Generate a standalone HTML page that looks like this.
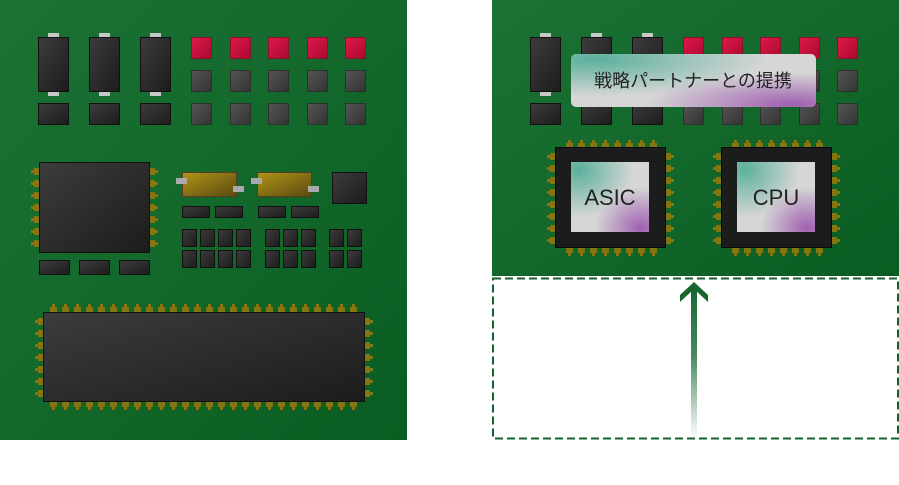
<!DOCTYPE html>
<html><head><meta charset="utf-8"><style>html,body{margin:0;padding:0;background:#fff}svg{display:block}</style></head><body>
<svg width="899" height="485" viewBox="0 0 899 485" xmlns="http://www.w3.org/2000/svg">
<defs>
<linearGradient id="bd" x1="0" y1="0" x2="1" y2="1"><stop offset="0" stop-color="#1c7234"/><stop offset="1" stop-color="#0a5d22"/></linearGradient>
<linearGradient id="ch" x1="0" y1="0" x2="1" y2="1"><stop offset="0" stop-color="#3c3c3c"/><stop offset="1" stop-color="#1c1c1c"/></linearGradient>
<linearGradient id="gr" x1="0" y1="0" x2="1" y2="1"><stop offset="0" stop-color="#555"/><stop offset="1" stop-color="#333"/></linearGradient>
<linearGradient id="rd" x1="0" y1="0" x2="1" y2="1"><stop offset="0" stop-color="#e0184a"/><stop offset="1" stop-color="#a80a30"/></linearGradient>
<linearGradient id="gd" x1="0" y1="0" x2="1" y2="1"><stop offset="0" stop-color="#b09418"/><stop offset="1" stop-color="#5a4a10"/></linearGradient>
<radialGradient id="tl" cx="0.1" cy="0.1" r="0.7"><stop offset="0" stop-color="#5bb09c"/><stop offset="1" stop-color="#5bb09c" stop-opacity="0"/></radialGradient>
<radialGradient id="br" cx="0.9" cy="0.95" r="0.6"><stop offset="0" stop-color="#a060b0"/><stop offset="1" stop-color="#a060b0" stop-opacity="0"/></radialGradient>
<linearGradient id="ar" x1="0" y1="1" x2="0" y2="0"><stop offset="0" stop-color="#1a6a35" stop-opacity="0"/><stop offset="0.55" stop-color="#1a6a35" stop-opacity="0.8"/><stop offset="1" stop-color="#16652f"/></linearGradient>
<pattern id="pu" patternUnits="userSpaceOnUse" width="12" height="8"><rect x="4" y="0" width="3" height="4" fill="#857612"/><rect x="2" y="3" width="7" height="5" fill="#857612"/></pattern>
<pattern id="pd" patternUnits="userSpaceOnUse" width="12" height="8"><rect x="2" y="0" width="7" height="5" fill="#857612"/><rect x="4" y="4" width="3" height="4" fill="#857612"/></pattern>
<pattern id="pl" patternUnits="userSpaceOnUse" width="8" height="12"><rect x="0" y="4" width="4" height="3" fill="#857612"/><rect x="3" y="2" width="5" height="7" fill="#857612"/></pattern>
<pattern id="pr" patternUnits="userSpaceOnUse" width="8" height="12"><rect x="0" y="2" width="5" height="7" fill="#857612"/><rect x="4" y="4" width="4" height="3" fill="#857612"/></pattern>
<g id="top">
<g fill="#c8c8c8"><rect x="48" y="33" width="11" height="6"/><rect x="48" y="90" width="11" height="6"/><rect x="99" y="33" width="11" height="6"/><rect x="99" y="90" width="11" height="6"/><rect x="150" y="33" width="11" height="6"/><rect x="150" y="90" width="11" height="6"/></g>
<g fill="url(#ch)" stroke="#111"><rect x="38.5" y="37.5" width="30" height="54"/><rect x="89.5" y="37.5" width="30" height="54"/><rect x="140.5" y="37.5" width="30" height="54"/>
<rect x="38.5" y="103.5" width="30" height="21"/><rect x="89.5" y="103.5" width="30" height="21"/><rect x="140.5" y="103.5" width="30" height="21"/></g>
<g fill="url(#rd)" stroke="#8a0a28" stroke-width="0.8"><rect x="191.5" y="37.5" width="20" height="21"/><rect x="230.5" y="37.5" width="20" height="21"/><rect x="268.5" y="37.5" width="20" height="21"/><rect x="307.5" y="37.5" width="20" height="21"/><rect x="345.5" y="37.5" width="20" height="21"/></g>
<g fill="url(#gr)" stroke="#2a2a2a" stroke-width="0.8"><rect x="191.5" y="70.5" width="20" height="21"/><rect x="230.5" y="70.5" width="20" height="21"/><rect x="268.5" y="70.5" width="20" height="21"/><rect x="307.5" y="70.5" width="20" height="21"/><rect x="345.5" y="70.5" width="20" height="21"/>
<rect x="191.5" y="103.5" width="20" height="21"/><rect x="230.5" y="103.5" width="20" height="21"/><rect x="268.5" y="103.5" width="20" height="21"/><rect x="307.5" y="103.5" width="20" height="21"/><rect x="345.5" y="103.5" width="20" height="21"/></g>
</g>
</defs>
<rect x="0" y="0" width="407" height="440" fill="url(#bd)"/>
<rect x="492" y="0" width="407" height="276" fill="url(#bd)"/>
<use href="#top"/>
<use href="#top" transform="translate(492,0)"/>
<!-- big chip -->
<g transform="translate(31,166)"><rect width="8" height="84" fill="url(#pl)"/></g>
<g transform="translate(150,166)"><rect width="8" height="84" fill="url(#pr)"/></g>
<rect x="39.5" y="162.5" width="110" height="90" fill="url(#ch)" stroke="#111"/>
<g fill="url(#ch)" stroke="#111"><rect x="39.5" y="260.5" width="30" height="14"/><rect x="79.5" y="260.5" width="30" height="14"/><rect x="119.5" y="260.5" width="30" height="14"/></g>
<!-- resistors -->
<rect x="182.5" y="172.5" width="54" height="24" fill="url(#gd)" stroke="#5a3a20"/>
<rect x="257.5" y="172.5" width="54" height="24" fill="url(#gd)" stroke="#5a3a20"/>
<g fill="#aaa"><rect x="176" y="178" width="11" height="6"/><rect x="233" y="186" width="11" height="6"/><rect x="251" y="178" width="11" height="6"/><rect x="308" y="186" width="11" height="6"/></g>
<rect x="332.5" y="172.5" width="34" height="31" fill="url(#ch)" stroke="#111"/>
<g fill="url(#ch)" stroke="#111"><rect x="182.5" y="206.5" width="27" height="11"/><rect x="215.5" y="206.5" width="27" height="11"/><rect x="258.5" y="206.5" width="27" height="11"/><rect x="291.5" y="206.5" width="27" height="11"/>
<rect x="182.5" y="229.5" width="14" height="17"/><rect x="200.5" y="229.5" width="14" height="17"/><rect x="218.5" y="229.5" width="14" height="17"/><rect x="236.5" y="229.5" width="14" height="17"/>
<rect x="182.5" y="250.5" width="14" height="17"/><rect x="200.5" y="250.5" width="14" height="17"/><rect x="218.5" y="250.5" width="14" height="17"/><rect x="236.5" y="250.5" width="14" height="17"/>
<rect x="265.5" y="229.5" width="14" height="17"/><rect x="283.5" y="229.5" width="14" height="17"/><rect x="301.5" y="229.5" width="14" height="17"/>
<rect x="265.5" y="250.5" width="14" height="17"/><rect x="283.5" y="250.5" width="14" height="17"/><rect x="301.5" y="250.5" width="14" height="17"/>
<rect x="329.5" y="229.5" width="14" height="17"/><rect x="347.5" y="229.5" width="14" height="17"/>
<rect x="329.5" y="250.5" width="14" height="17"/><rect x="347.5" y="250.5" width="14" height="17"/></g>
<!-- long chip -->
<g transform="translate(48,304)"><rect width="312" height="8" fill="url(#pu)"/></g>
<g transform="translate(48,402)"><rect width="312" height="8" fill="url(#pd)"/></g>
<g transform="translate(35,316)"><rect width="8" height="84" fill="url(#pl)"/></g>
<g transform="translate(365,316)"><rect width="8" height="84" fill="url(#pr)"/></g>
<rect x="43.5" y="312.5" width="321" height="89" fill="url(#ch)" stroke="#111"/>
<!-- label -->
<g>
<rect x="571" y="54" width="245" height="53" rx="5" fill="#d6d6d6"/>
<rect x="571" y="54" width="245" height="53" rx="5" fill="url(#tl)"/>
<rect x="571" y="54" width="245" height="53" rx="5" fill="url(#br)"/>
<text x="693" y="87" text-anchor="middle" font-family="'Liberation Sans','Noto Sans CJK JP',sans-serif" font-size="18" fill="#222">戦略パートナーとの提携</text>
</g>
<!-- ASIC & CPU -->
<g id="asic">
<g transform="translate(564,140)"><rect width="96" height="8" fill="url(#pu)"/></g>
<g transform="translate(564,248)"><rect width="96" height="8" fill="url(#pd)"/></g>
<g transform="translate(547,151)"><rect width="8" height="96" fill="url(#pl)"/></g>
<g transform="translate(666,151)"><rect width="8" height="96" fill="url(#pr)"/></g>
<rect x="555.5" y="147.5" width="110" height="100" fill="#1c1c1c" stroke="#0a0a0a"/>
<rect x="571" y="162" width="78" height="70" fill="#d6d6d6"/>
<rect x="571" y="162" width="78" height="70" fill="url(#tl)"/>
<rect x="571" y="162" width="78" height="70" fill="url(#br)"/>
</g>
<use href="#asic" transform="translate(166,0)"/>
<g font-family="'Liberation Sans',sans-serif" font-size="22" fill="#222" text-anchor="middle"><text x="610" y="205">ASIC</text><text x="776" y="205">CPU</text></g>
<!-- dashed box & arrow -->
<rect x="493" y="278.5" width="405" height="160" fill="none" stroke="#17602c" stroke-width="2" stroke-dasharray="8,4"/>
<rect x="691" y="287" width="6" height="151" fill="url(#ar)"/>
<path d="M694 282 L708 295 L708 302 L694 289 L680 302 L680 295 Z" fill="#17652f"/>
</svg>
</body></html>
